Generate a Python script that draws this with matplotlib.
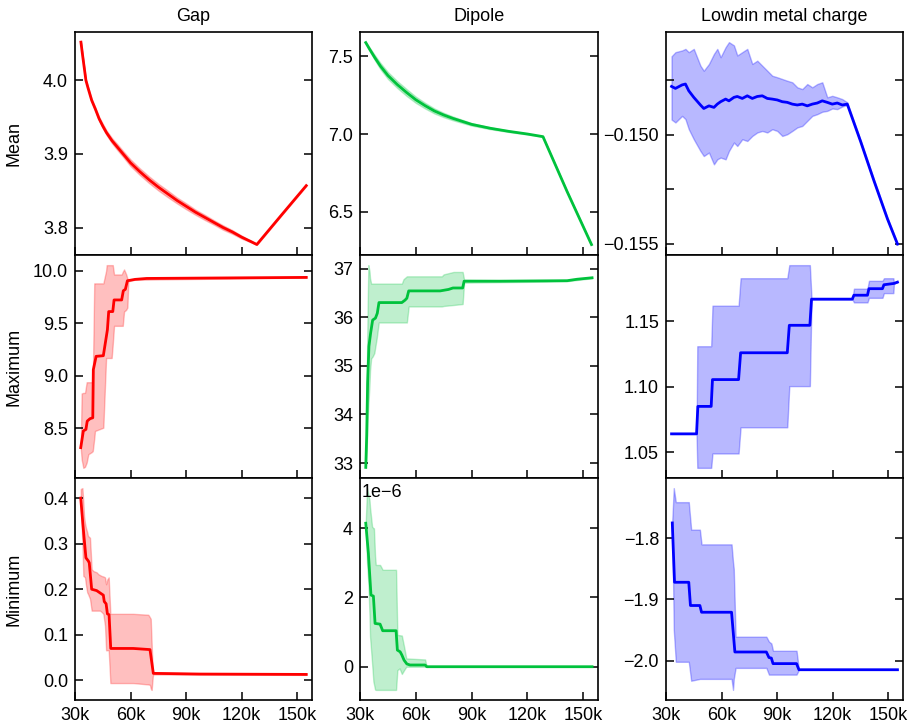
import matplotlib
matplotlib.use("Agg")
import matplotlib.pyplot as plt
from matplotlib.ticker import FuncFormatter
import numpy as np

plt.rcParams['font.family'] = ['Liberation Sans', 'DejaVu Sans']
plt.rcParams['font.size'] = 13

# x values in thousands of steps
# ---------------- Row 1: Mean ----------------
gap_mean_x = [33.2, 34, 35, 35.9, 37, 39, 41, 43, 45, 47, 50, 53, 56, 60, 65, 70, 75, 80, 85,
              90, 95, 100, 105, 110, 115, 120, 125, 128.2, 141.5, 154.9]
gap_mean = [4.052, 4.036, 4.017, 4.000, 3.990, 3.973, 3.961, 3.948, 3.938, 3.929, 3.918, 3.909,
            3.900, 3.888, 3.876, 3.865, 3.855, 3.846, 3.837, 3.829, 3.821, 3.814, 3.807, 3.800,
            3.794, 3.787, 3.781, 3.777, 3.817, 3.857]
gap_mean_spread = [0.0, 0.0005, 0.001, 0.001, 0.0015, 0.002, 0.002, 0.0025, 0.003, 0.003, 0.0035,
                   0.004, 0.004, 0.0045, 0.0045, 0.0045, 0.0045, 0.0045, 0.004, 0.004, 0.0035,
                   0.0035, 0.003, 0.003, 0.0025, 0.002, 0.001, 0.0005, 0.0005, 0.0005]

dip_mean_x = [33.1, 35, 38, 41, 45, 50, 55, 60, 65, 70, 75, 80, 90, 100, 110, 120, 128.4, 141.4, 154.5]
dip_mean = [7.587, 7.548, 7.490, 7.436, 7.376, 7.318, 7.267, 7.220, 7.182, 7.148, 7.122, 7.100,
            7.062, 7.037, 7.017, 7.000, 6.983, 6.630, 6.290]
dip_mean_spread = [0.003, 0.010, 0.016, 0.020, 0.022, 0.022, 0.022, 0.020, 0.018, 0.016, 0.014,
                   0.012, 0.008, 0.006, 0.004, 0.003, 0.002, 0.002, 0.002]

low_mean_x = [33.0, 35.1, 38.7, 40.5, 42.3, 45.0, 48.6, 50.4, 53.2, 55.9, 57.7, 59.5, 62.2, 64.0,
              66.7, 68.5, 71.2, 73.9, 76.6, 79.3, 82.0, 84.7, 87.4, 90.1, 92.8, 95.5, 98.2, 100.9,
              103.6, 106.3, 109.0, 111.7, 114.4, 117.1, 119.8, 122.5, 125.2, 127.9, 135.1, 142.3,
              149.6, 155.0]
low_mean = [-0.14778, -0.14787, -0.14771, -0.14767, -0.14798, -0.14828, -0.14863, -0.14879,
            -0.14867, -0.14874, -0.14859, -0.14848, -0.14836, -0.14844, -0.14828, -0.14824,
            -0.14833, -0.14821, -0.14833, -0.14824, -0.14821, -0.14833, -0.14836, -0.14840,
            -0.14848, -0.14851, -0.14859, -0.14863, -0.14859, -0.14867, -0.14859, -0.14854,
            -0.14844, -0.14851, -0.14859, -0.14854, -0.14863, -0.14859, -0.15030, -0.15210,
            -0.15385, -0.15500]
low_mean_hi = [-0.14640, -0.14621, -0.14613, -0.14606, -0.14621, -0.14606, -0.14683, -0.14706,
               -0.14675, -0.14629, -0.14606, -0.14644, -0.14598, -0.14575, -0.14590, -0.14636,
               -0.14621, -0.14606, -0.14675, -0.14660, -0.14683, -0.14706, -0.14729, -0.14736,
               -0.14744, -0.14752, -0.14759, -0.14782, -0.14790, -0.14767, -0.14782, -0.14767,
               -0.14759, -0.14828, -0.14821, -0.14828, -0.14836, -0.14851, -0.15024, -0.15204,
               -0.15379, -0.15496]
low_mean_lo = [-0.14930, -0.14943, -0.14913, -0.14928, -0.14974, -0.15020, -0.15074, -0.15097,
               -0.15081, -0.15135, -0.15112, -0.15104, -0.15112, -0.15074, -0.15035, -0.15051,
               -0.15020, -0.15028, -0.15005, -0.14989, -0.14982, -0.14989, -0.14974, -0.14982,
               -0.15005, -0.14997, -0.14982, -0.14966, -0.14959, -0.14936, -0.14913, -0.14905,
               -0.14894, -0.14890, -0.14879, -0.14882, -0.14870, -0.14863, -0.15036, -0.15216,
               -0.15391, -0.15504]

# ---------------- Row 2: Maximum ----------------
gap_max_x = [33.1, 34.5, 35.9, 36.6, 38.1, 39.6, 39.9, 41.4, 45.3, 47.5, 48.2, 50.4, 51.1, 55.2,
             56.1, 57.2, 58.3, 62.4, 68.7, 154.9]
gap_max = [8.313, 8.472, 8.487, 8.566, 8.589, 8.598, 9.057, 9.184, 9.190, 9.437, 9.611, 9.611,
           9.722, 9.722, 9.810, 9.823, 9.905, 9.918, 9.927, 9.937]
gap_max_band_x = [33.1, 33.6, 34.5, 35.4, 36.3, 37.2, 39.0, 39.6, 40.4, 40.8, 45.3, 46.8, 47.1,
                  49.8, 50.4, 51.1, 55.2, 55.8, 56.5, 57.6, 58.3, 58.8, 62.4, 154.9]
gap_max_lo = [8.31, 8.20, 8.12, 8.13, 8.17, 8.25, 8.27, 8.28, 8.40, 8.472, 8.503, 9.168, 9.168,
              9.168, 9.30, 9.475, 9.475, 9.475, 9.611, 9.627, 9.65, 9.900, 9.915, 9.935]
gap_max_hi = [8.32, 8.83, 8.835, 8.835, 8.937, 8.937, 8.937, 8.95, 9.880, 9.880, 9.880, 10.00,
              10.054, 10.054, 10.054, 9.965, 9.965, 9.99, 10.013, 9.968, 9.927, 9.915, 9.921, 9.939]

dip_max_x = [33.1, 33.6, 34.1, 34.8, 35.7, 36.8, 38.3, 39.3, 40.2, 52.5, 54.2, 55.2, 56.2, 73.1,
             77.6, 80.0, 85.2, 86.0, 105.4, 141.4, 146.8, 154.8]
dip_max = [32.91, 33.56, 34.65, 35.40, 35.67, 35.94, 35.98, 36.08, 36.30, 36.30, 36.35, 36.39,
           36.54, 36.54, 36.57, 36.60, 36.60, 36.74, 36.74, 36.75, 36.78, 36.81]
dip_max_band_x = [33.1, 33.6, 34.1, 34.5, 35.1, 35.4, 36.0, 36.8, 37.7, 39.0, 40.1, 52.5, 53.4,
                  55.2, 56.2, 74.0, 75.0, 80.3, 85.2, 86.0, 105.4, 130.0, 141.4, 154.8]
dip_max_lo = [32.90, 33.3, 33.9, 34.2, 34.6, 34.9, 35.15, 35.19, 35.26, 35.57, 35.89, 35.89, 35.89,
              35.89, 36.22, 36.22, 36.23, 36.25, 36.27, 36.71, 36.72, 36.73, 36.74, 36.80]
dip_max_hi = [32.95, 34.6, 36.2, 37.07, 36.95, 36.8, 36.69, 36.69, 36.69, 36.69, 36.69, 36.69,
              36.78, 36.84, 36.84, 36.84, 36.88, 36.93, 36.93, 36.77, 36.76, 36.76, 36.76, 36.82]

low_max_x = [33.0, 46.5, 47.2, 54.4, 55.1, 69.2, 70.3, 95.5, 96.6, 107.7, 108.6, 130.6, 131.5,
             138.8, 139.6, 146.9, 147.7, 153.1, 155.0]
low_max = [1.064, 1.064, 1.085, 1.085, 1.1055, 1.1055, 1.126, 1.126, 1.147, 1.147, 1.167, 1.167,
           1.170, 1.170, 1.175, 1.175, 1.178, 1.179, 1.180]
low_max_band_x = [33.0, 46.5, 46.9, 54.4, 55.1, 69.2, 70.3, 95.5, 96.6, 107.7, 108.6, 130.6, 131.5,
                  138.8, 139.6, 146.9, 147.7, 152.8, 153.1, 155.0]
low_max_lo = [1.064, 1.064, 1.038, 1.038, 1.049, 1.049, 1.069, 1.069, 1.1005, 1.1005, 1.167, 1.167,
              1.1645, 1.1645, 1.168, 1.168, 1.1716, 1.1716, 1.179, 1.180]
low_max_hi = [1.064, 1.064, 1.131, 1.131, 1.162, 1.162, 1.183, 1.183, 1.193, 1.193, 1.167, 1.167,
              1.175, 1.175, 1.181, 1.181, 1.183, 1.183, 1.179, 1.180]

# ---------------- Row 3: Minimum ----------------
gap_min_x = [33.1, 34.2, 34.9, 35.9, 37.2, 37.7, 39.0, 41.7, 43.5, 45.3, 45.8, 46.8, 47.5, 48.4,
             49.3, 61.5, 70.5, 72.3, 97.6, 154.9]
gap_min = [0.400, 0.346, 0.313, 0.269, 0.262, 0.258, 0.200, 0.197, 0.192, 0.187, 0.173, 0.168,
           0.146, 0.144, 0.070, 0.070, 0.0675, 0.0153, 0.0138, 0.013]
gap_min_band_x = [33.1, 34.0, 34.5, 34.9, 35.4, 35.9, 36.6, 37.0, 38.1, 39.0, 39.9, 41.7, 42.6,
                  43.5, 44.4, 45.3, 46.2, 46.8, 47.5, 48.2, 49.1, 61.5, 69.6, 70.5, 70.9, 71.4,
                  72.0, 72.3, 97.6, 154.9]
gap_min_lo = [0.39, 0.30, 0.229, 0.228, 0.226, 0.21, 0.193, 0.19, 0.179, 0.153, 0.153, 0.153,
              0.153, 0.153, 0.150, 0.146, 0.12, 0.066, 0.066, 0.066, -0.006, -0.006, -0.009,
              -0.010, -0.018, -0.021, 0.008, 0.013, 0.0125, 0.012]
gap_min_hi = [0.42, 0.422, 0.39, 0.360, 0.345, 0.335, 0.325, 0.317, 0.313, 0.244, 0.240, 0.237,
              0.233, 0.231, 0.229, 0.228, 0.226, 0.211, 0.222, 0.226, 0.146, 0.146, 0.144, 0.138,
              0.135, 0.08, 0.019, 0.018, 0.015, 0.014]

dip_min_x = [33.1, 34.5, 35.9, 37.2, 38.1, 40.8, 42.2, 49.4, 50.1, 51.6, 52.5, 53.7, 55.2, 56.9,
             65.0, 65.9, 154.8]
dip_min = [4.145e-6, 3.28e-6, 2.07e-6, 2.04e-6, 1.25e-6, 1.23e-6, 1.04e-6, 1.04e-6, 0.48e-6,
           0.43e-6, 0.34e-6, 0.19e-6, 0.08e-6, 0.05e-6, 0.05e-6, 0.0, 0.0]
dip_min_band_x = [33.1, 33.8, 34.5, 35.1, 35.4, 36.5, 37.2, 37.5, 38.1, 38.5, 40.8, 42.2, 49.4,
                  50.1, 51.3, 52.5, 53.7, 54.9, 65.0, 65.9, 154.8]
dip_min_lo = [4.10e-6, 3.0e-6, 2.41e-6, 1.5e-6, 0.87e-6, 0.10e-6, -0.43e-6, -0.5e-6, -0.66e-6,
              -0.67e-6, -0.67e-6, -0.67e-6, -0.67e-6, -0.10e-6, -0.05e-6, -0.21e-6, -0.10e-6,
              0.0, 0.0, 0.0, 0.0]
dip_min_hi = [4.20e-6, 5.16e-6, 4.96e-6, 4.82e-6, 4.6e-6, 4.05e-6, 4.0e-6, 4.0e-6, 3.2e-6,
              2.94e-6, 2.94e-6, 2.80e-6, 2.80e-6, 0.92e-6, 0.91e-6, 0.90e-6, 0.58e-6, 0.24e-6,
              0.21e-6, 0.0, 0.0]

low_min_x = [33.4, 34.6, 42.3, 43.2, 48.3, 49.2, 65.4, 67.2, 84.2, 85.6, 86.9, 87.8, 100.5, 101.8,
             155.0]
low_min = [-1.775, -1.872, -1.872, -1.910, -1.910, -1.921, -1.921, -1.986, -1.986, -1.995,
           -1.996, -2.005, -2.005, -2.015, -2.015]
low_min_band_x = [33.4, 34.2, 35.3, 42.3, 43.6, 48.3, 49.2, 65.4, 66.2, 66.6, 67.6, 84.2, 85.6,
                  86.9, 87.8, 100.5, 101.8, 155.0]
low_min_lo = [-1.78, -1.95, -2.002, -2.002, -2.033, -2.030, -2.030, -2.030, -2.048, -2.03, -2.012,
              -2.012, -2.023, -2.023, -2.023, -2.023, -2.015, -2.015]
low_min_hi = [-1.77, -1.718, -1.741, -1.741, -1.786, -1.786, -1.810, -1.810, -1.839, -1.85, -1.961,
              -1.961, -1.969, -1.972, -1.984, -1.984, -2.015, -2.015]

titles = ["Gap", "Dipole", "Lowdin metal charge"]
row_labels = ["Mean", "Maximum", "Minimum"]
colors = ["#ff0000", "#00c23c", "#0000ff"]
band_alpha = [0.25, 0.25, 0.28]
x_ticks = [30, 60, 90, 120, 150]

W, H = 915, 726
fig = plt.figure(figsize=(W / 100, H / 100), dpi=100)
col_px = [(75, 312), (360, 598), (666, 903)]
row_px = [(32, 255), (255, 478), (478, 700)]

axes = [[None] * 3 for _ in range(3)]
for r, (t, b) in enumerate(row_px):
    for c, (l, rr) in enumerate(col_px):
        ax = fig.add_axes([l / W, 1 - b / H, (rr - l) / W, (b - t) / H])
        axes[r][c] = ax


def mean_band(ax, x, y, spread, color, alpha):
    y = np.asarray(y)
    s = np.asarray(spread)
    ax.fill_between(x, y - s, y + s, color=color, alpha=alpha, lw=1)
    ax.plot(x, y, color=color, lw=2)


def band(ax, bx, lo, hi, x, y, color, alpha):
    ax.fill_between(bx, lo, hi, color=color, alpha=alpha, lw=1)
    ax.plot(x, y, color=color, lw=2)


mean_band(axes[0][0], gap_mean_x, gap_mean, gap_mean_spread, colors[0], band_alpha[0])
mean_band(axes[0][1], dip_mean_x, dip_mean, dip_mean_spread, colors[1], band_alpha[1])
band(axes[0][2], low_mean_x, low_mean_lo, low_mean_hi, low_mean_x, low_mean, colors[2], band_alpha[2])

band(axes[1][0], gap_max_band_x, gap_max_lo, gap_max_hi, gap_max_x, gap_max, colors[0], band_alpha[0])
band(axes[1][1], dip_max_band_x, dip_max_lo, dip_max_hi, dip_max_x, dip_max, colors[1], band_alpha[1])
band(axes[1][2], low_max_band_x, low_max_lo, low_max_hi, low_max_x, low_max, colors[2], band_alpha[2])

band(axes[2][0], gap_min_band_x, gap_min_lo, gap_min_hi, gap_min_x, gap_min, colors[0], band_alpha[0])
band(axes[2][1], dip_min_band_x, dip_min_lo, dip_min_hi, dip_min_x, dip_min, colors[1], band_alpha[1])
band(axes[2][2], low_min_band_x, low_min_lo, low_min_hi, low_min_x, low_min, colors[2], band_alpha[2])

kfmt = FuncFormatter(lambda v, p: f"{int(round(v))}k")
for r in range(3):
    for c in range(3):
        ax = axes[r][c]
        ax.set_xlim(30, 158)
        ax.set_xticks(x_ticks)
        ax.xaxis.set_major_formatter(kfmt)
        ax.tick_params(axis='both', direction='in', length=6, width=1.1, pad=5, labelsize=13)
        ax.tick_params(axis='y', left=True, right=True)
        ax.tick_params(axis='x', bottom=True, top=False)
        for sp in ax.spines.values():
            sp.set_linewidth(1.2)
        if r < 2:
            ax.tick_params(axis='x', labelbottom=False)
        if r == 0:
            ax.set_title(titles[c], fontsize=13, pad=8)
        if c == 0:
            ax.set_ylabel(row_labels[r], fontsize=13)
            ax.yaxis.set_label_coords(-0.22, 0.5)

axes[0][0].set_yticks([3.8, 3.9, 4.0])
axes[0][1].set_yticks([6.5, 7.0, 7.5])
axes[0][2].set_yticks([-0.155, -0.1525, -0.150, -0.1475], labels=["\u22120.155", "", "\u22120.150", ""])
axes[1][0].set_yticks([8.5, 9.0, 9.5, 10.0])
axes[1][1].set_yticks([33, 34, 35, 36, 37])
axes[1][2].set_yticks([1.05, 1.10, 1.15])
axes[1][2].yaxis.set_major_formatter(FuncFormatter(lambda v, p: f"{v:.2f}"))
axes[2][0].set_yticks([0.0, 0.1, 0.2, 0.3, 0.4])
axes[2][1].set_yticks([0, 2e-6, 4e-6])
axes[2][1].yaxis.set_major_formatter(FuncFormatter(lambda v, p: f"{v * 1e6:.0f}"))
axes[2][1].text(0.008, 0.975, "1e\u22126", transform=axes[2][1].transAxes, ha='left', va='top',
                fontsize=13)
axes[2][2].set_yticks([-2.0, -1.9, -1.8])
axes[0][0].yaxis.set_major_formatter(FuncFormatter(lambda v, p: f"{v:.1f}"))
axes[0][1].yaxis.set_major_formatter(FuncFormatter(lambda v, p: f"{v:.1f}"))
axes[1][0].yaxis.set_major_formatter(FuncFormatter(lambda v, p: f"{v:.1f}"))
axes[2][0].yaxis.set_major_formatter(FuncFormatter(lambda v, p: f"{v:.1f}"))
axes[2][2].yaxis.set_major_formatter(FuncFormatter(lambda v, p: f"{v:.1f}".replace("-", "\u2212")))

fig.savefig("out.png", dpi=100)
